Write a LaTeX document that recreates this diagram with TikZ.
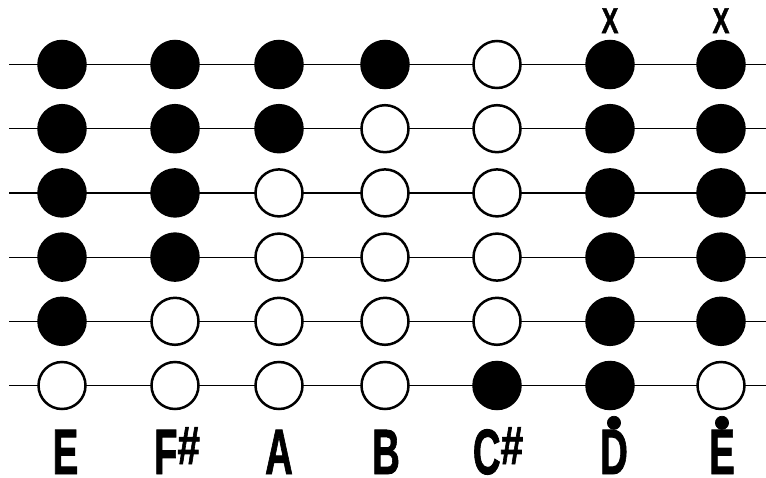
\documentclass[tikz,border=0pt]{standalone}
\usepackage{fontspec}
\setmainfont{Liberation Sans}
\newfontfamily\notefont{Liberation Sans Bold}[FakeBold=1.5]
\usepackage{graphicx}
\usetikzlibrary{positioning}

\newcommand{\cond}[1]{\scalebox{0.6}[1]{#1}}
\newcommand{\shp}{\raisebox{10pt}{\scalebox{0.75}[1]{\fontsize{54}{54}\selectfont\#}}}
\newcommand{\topdot}[1]{\setbox0\hbox{\cond{#1}}%
  \rlap{\hbox to \wd0{\hss\raisebox{36pt}{\fontsize{46}{46}\selectfont\textbullet}\hss}}\box0}

\tikzset{
  hole/.style={circle, draw, line width=2.5pt, minimum size=47pt, inner sep=0pt},
  string/.style={line width=1.3pt},
  notename/.style={anchor=base, inner sep=0pt, font=\fontsize{64}{64}\notefont},
  mute/.style={inner sep=0pt, font=\fontsize{36}{36}\notefont}
}

\begin{document}
\begin{tikzpicture}[x=1pt, y=-1pt, node distance=6.5pt]
    \useasboundingbox (0,0) rectangle (766,477);
    % strings
    \foreach \r/\y in {1/64.5,2/128.7,3/193,4/257.3,5/321.5,6/385.5} {
      \coordinate (s\r) at (9,\y);
      \coordinate (e\r) at (766,\y);
      \draw[string] (s\r) -- (e\r);
    }
    % holes, top to bottom
    \foreach \c/\x/\pat in {1/62/{black,black,black,black,black,white},
                            2/175/{black,black,black,black,white,white},
                            3/279/{black,black,white,white,white,white},
                            4/385/{black,white,white,white,white,white},
                            5/497/{white,white,white,white,white,black},
                            6/610/{black,black,black,black,black,black},
                            7/721/{black,black,black,black,black,white}} {
      \foreach \f [count=\r] in \pat {
        \node[hole, fill=\f] (h\c-\r) at (\x,{64.5+64.2*(\r-1)}) {};
      }
    }
    \node[mute, above=of h6-1] (x6) {\scalebox{0.7}[1]{X}};
    \node[mute, above=of h7-1] (x7) {\scalebox{0.7}[1]{X}};
    % note names
    \foreach \i/\x/\t in {1/65.5/\cond{E}, 2/177/\cond{F}\shp, 3/279/\cond{A}, 4/386/\cond{B},
                          5/498/\cond{C}\shp, 6/614/\topdot{D}, 7/722/\topdot{E}} {
      \node[notename] (n\i) at (\x,474) {\t};
    }
\end{tikzpicture}
\end{document}
